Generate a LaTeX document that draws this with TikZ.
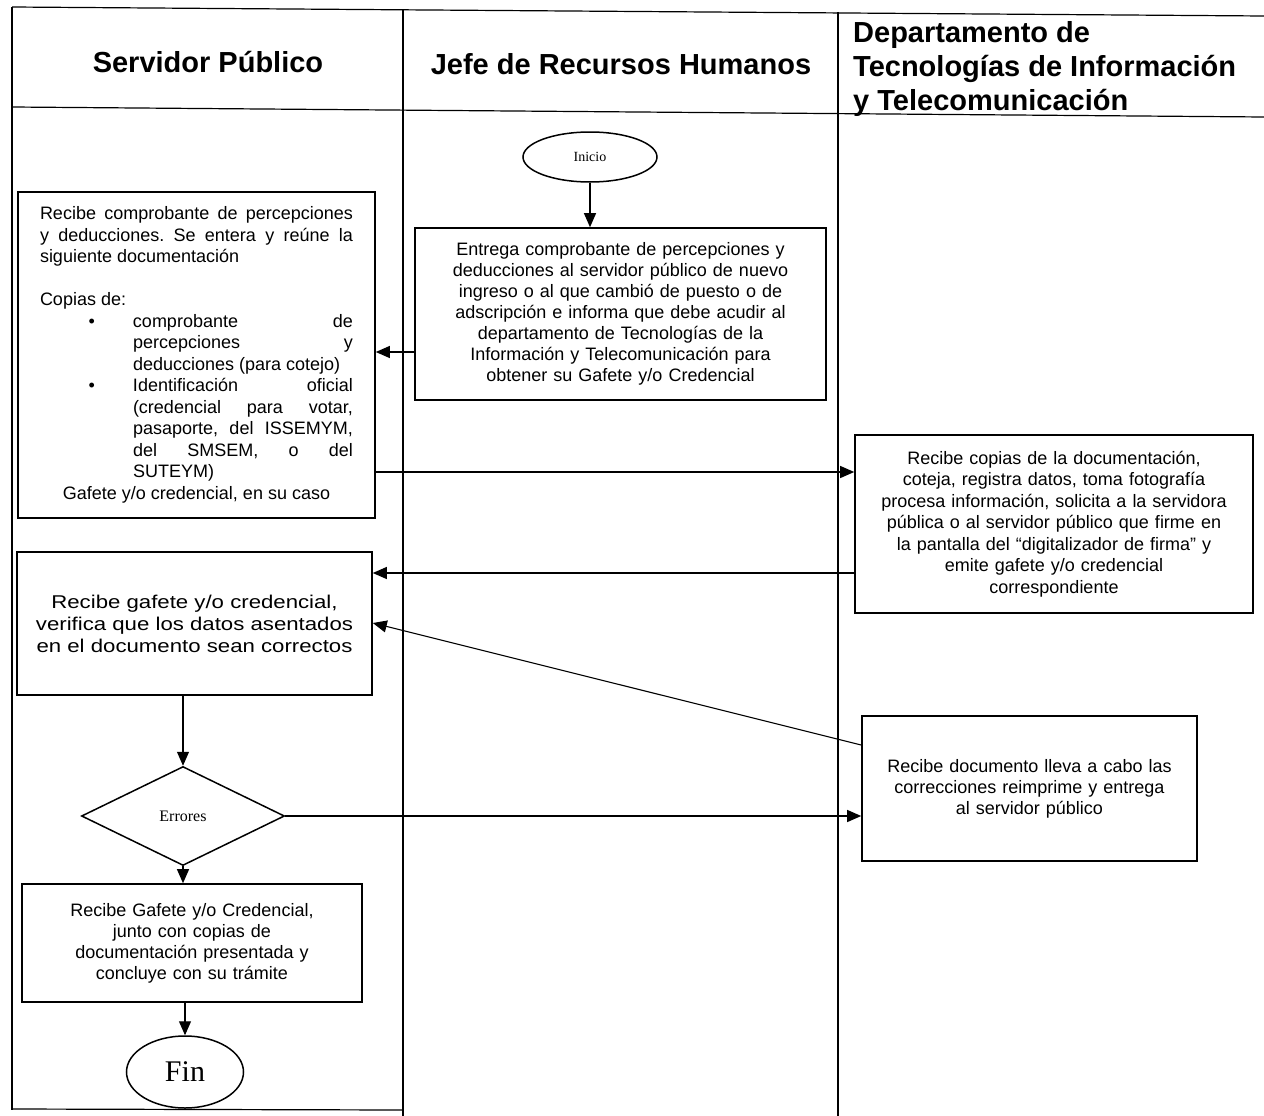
\documentclass[tikz,border=0pt]{standalone}
\usepackage{fontspec}
\setmainfont{Liberation Sans}
\newfontfamily\serifx{Liberation Serif}
\newfontfamily\widex{Liberation Sans}[FakeStretch=1.2]
\usetikzlibrary{shapes.geometric,arrows.meta}
\frenchspacing
\begin{document}
\begin{tikzpicture}[x=1pt,y=-1pt,
  lane/.style={line width=1.2pt},
  box/.style={draw,line width=1.6pt,inner sep=0pt,align=center,font=\fontsize{18}{21}\selectfont},
  arr/.style={line width=1.1pt,-{Triangle[length=14pt,width=12pt]}},
  hdr/.style={font=\bfseries\fontsize{29}{34}\selectfont,inner sep=0pt},
  term/.style={draw,ellipse,line width=1.5pt,inner sep=0pt}]
\useasboundingbox (0,0) rectangle (1264,1116);
\fill[white] (0,0) rectangle (1264,1116);
% lanes
\draw[lane] (12,7) -- (1264,16);
\draw[lane] (12,107) -- (1264,117);
\draw[lane] (12,7) -- (12,1110);
\draw[lane] (403,10) -- (403,1116);
\draw[lane] (838,12) -- (838,1116);
\draw[lane] (12,1109) -- (403,1110);
% headers
\node[hdr] (h1) at (208,62) {Servidor Público};
\node[hdr] (h2) at (621,64) {Jefe de Recursos Humanos};
\node[hdr,align=left,anchor=west] (h3) at (853,69) {Departamento de\\Tecnologías de Información\\y Telecomunicación};
% nodes
\node[term,minimum width=134,minimum height=50,font=\serifx\fontsize{14}{16}\selectfont] (ini) at (590,157) {Inicio};
\node[box,minimum width=411,minimum height=172,text width=405] (b2) at (620.5,314) {Entrega comprobante de percepciones y\\deducciones al servidor público de nuevo\\ingreso o al que cambió de puesto o de\\adscripción e informa que debe acudir al\\departamento de Tecnologías de la\\Información y Telecomunicación para\\obtener su Gafete y/o Credencial};
\node[box,align=justify,minimum width=357,minimum height=326,text width=313,font=\fontsize{18}{21.5}\selectfont] (b1) at (196.5,355) {Recibe comprobante de percepciones\linebreak y deducciones. Se entera y reúne la\linebreak siguiente documentación\par\vspace{21.5pt}Copias de:\par{\leftskip=93pt\noindent\llap{\textbullet\hspace{38pt}}comprobante de\linebreak percepciones y\linebreak deducciones (para cotejo)\par\noindent\llap{\textbullet\hspace{38pt}}Identificación oficial\linebreak (credencial para votar,\linebreak pasaporte, del ISSEMYM,\linebreak del SMSEM, o del\linebreak SUTEYM)\par}{\centering Gafete y/o credencial, en su caso\par}};
\node[box,minimum width=398,minimum height=178,text width=392,font=\fontsize{18}{21.5}\selectfont] (b3) at (1054,524) {Recibe copias de la documentación,\\coteja, registra datos, toma fotografía\\procesa información, solicita a la servidora\\pública o al servidor público que firme en\\la pantalla del “digitalizador de firma” y\\emite gafete y/o credencial\\correspondiente};
\node[box,minimum width=355,minimum height=143,text width=345,font=\widex\fontsize{18.5}{22}\selectfont] (b4) at (194.5,623.5) {Recibe gafete y/o credencial,\\verifica que los datos asentados\\en el documento sean correctos};
\node[box,minimum width=335,minimum height=145,text width=325] (b5) at (1029.5,788.5) {Recibe documento lleva a cabo las\\correcciones reimprime y entrega\\al servidor público};
\node[draw,diamond,line width=1.5pt,inner sep=0pt,aspect=2.05,minimum width=203,minimum height=99,font=\serifx\fontsize{16}{18}\selectfont] (d) at (183,816) {Errores};
\node[box,minimum width=340,minimum height=118,text width=330] (b6) at (192,943) {Recibe Gafete y/o Credencial,\\junto con copias de\\documentación presentada y\\concluye con su trámite};
\node[term,minimum width=117,minimum height=72,font=\serifx\fontsize{30}{34}\selectfont] (fin) at (185,1072) {Fin};
% connectors
\draw[arr] (ini) -- (ini |- b2.north);
\draw[arr] (b2.west |- 0,352) -- (b1.east |- 0,352);
\draw[arr] (b1.east |- 0,472) -- (b3.west |- 0,472);
\draw[arr] (b3.west |- 0,573) -- (b4.east |- 0,573);
\draw[arr] (b5.west |- 0,745) -- (b4.east |- 0,623);
\draw[arr] (d.north |- b4.south) -- (d.north);
\draw[arr] (d.east) -- (b5.west |- d.east);
\draw[arr] (d.south) -- (d.south |- b6.north);
\draw[arr] (fin.north |- b6.south) -- (fin.north);
\end{tikzpicture}
\end{document}
